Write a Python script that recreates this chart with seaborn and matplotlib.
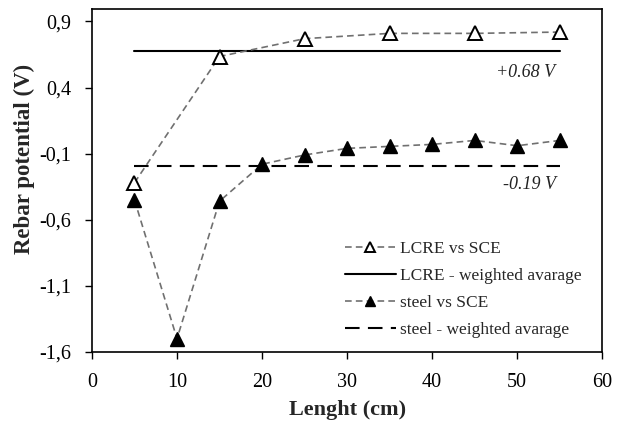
import matplotlib
matplotlib.use("Agg")
import matplotlib.pyplot as plt
import seaborn as sns
import pandas as pd

# ---- data ----
length_cm = [5, 15, 25, 35, 45, 55]
lcre_vs_sce = [-0.32, 0.635, 0.77, 0.81, 0.81, 0.82]

steel_length_cm = [5, 10, 15, 20, 25, 30, 35, 40, 45, 50, 55]
steel_vs_sce = [-0.45, -1.50, -0.46, -0.18, -0.11, -0.06, -0.045, -0.03, 0.0, -0.04, 0.0]

avg_extent_cm = [5, 55]
lcre_weighted_avg = 0.68
steel_weighted_avg = -0.19

x_ticks = [0, 10, 20, 30, 40, 50, 60]
y_ticks = [-1.6, -1.1, -0.6, -0.1, 0.4, 0.9]
y_tick_labels = ["-1,6", "-1,1", "-0,6", "-0,1", "0,4", "0,9"]

labels = ["LCRE vs SCE", "LCRE - weighted avarage", "steel vs SCE", "steel - weighted avarage"]
annot_lcre = "+0.68 V"
annot_steel = "-0.19 V"

sns.set_theme(style="ticks")
plt.rcParams["font.family"] = ["Liberation Serif", "DejaVu Serif"]

fig = plt.figure(figsize=(6.34, 4.25), dpi=100)
ax = fig.add_axes([0.145, 0.172, 0.805, 0.807])

df_l = pd.DataFrame({"x": length_cm, "y": lcre_vs_sce})
df_s = pd.DataFrame({"x": steel_length_cm, "y": steel_vs_sce})
df_la = pd.DataFrame({"x": avg_extent_cm, "y": [lcre_weighted_avg] * 2})
df_sa = pd.DataFrame({"x": avg_extent_cm, "y": [steel_weighted_avg] * 2})

sns.lineplot(data=df_l, x="x", y="y", ax=ax, color="#707070", lw=1.2,
             ls=(0, (4, 2.5)), marker="^", markersize=9.5, markerfacecolor="white",
             markeredgecolor="black", markeredgewidth=1.4, label=labels[0], zorder=3)
sns.lineplot(data=df_la, x="x", y="y", ax=ax, color="black", lw=1.5,
             label=labels[1], zorder=2)
sns.lineplot(data=df_s, x="x", y="y", ax=ax, color="#707070", lw=1.2,
             ls=(0, (4, 2.5)), marker="^", markersize=9.5, markerfacecolor="black",
             markeredgecolor="black", markeredgewidth=1.0, label=labels[2], zorder=3)
sns.lineplot(data=df_sa, x="x", y="y", ax=ax, color="black", lw=1.5,
             ls=(0, (7, 4)), label=labels[3], zorder=2)

ax.text(54.5, lcre_weighted_avg - 0.165, annot_lcre, ha="right", va="center",
        fontsize=13, style="italic", color="#222222")
ax.text(54.5, steel_weighted_avg - 0.147, annot_steel, ha="right", va="center",
        fontsize=13, style="italic", color="#222222")

ax.set_xlim(0, 60)
ax.set_ylim(-1.6, 0.995)
ax.set_xticks(x_ticks)
ax.set_yticks(y_ticks)
ax.set_yticklabels(y_tick_labels)
ax.tick_params(axis="both", labelsize=14.5, direction="out", length=5, width=1,
               colors="black")
ax.tick_params(axis="y", pad=10)
ax.tick_params(axis="x", pad=10)
for s in ax.spines.values():
    s.set_visible(True)
    s.set_linewidth(1.2)
    s.set_color("black")

ax.set_xlabel("Lenght (cm)", fontsize=16, fontweight="bold", labelpad=6)
ax.set_ylabel("Rebar potential (V)", fontsize=16.5, fontweight="bold")
ax.yaxis.set_label_coords(-0.112, 0.563)

leg = ax.legend(loc="lower right", bbox_to_anchor=(0.99, -0.004), frameon=False,
                fontsize=12.5, handlelength=2.9, handletextpad=0.25, labelspacing=0.62,
                numpoints=1, markerscale=0.7)

fig.savefig("out.png", dpi=100)
